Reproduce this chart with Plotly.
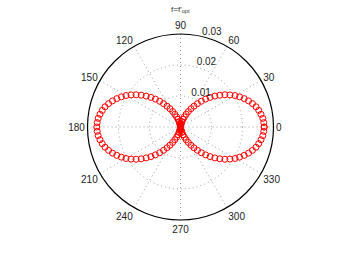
import plotly.graph_objects as go

# angles in degrees (3-degree step) and radial values
theta_deg = [i * 3 for i in range(121)]
quad_out = [0.0270, 0.0269, 0.0267, 0.0263, 0.0258, 0.0252, 0.0244, 0.0235, 0.0225, 0.0214,
            0.0203, 0.0190, 0.0177, 0.0163, 0.0149, 0.0135, 0.0121, 0.0107, 0.0093, 0.0080,
            0.0068, 0.0056, 0.0045, 0.0035, 0.0026, 0.0018, 0.0012, 0.0007, 0.0003, 0.0001]
quad_in = [0.0000, 0.0001, 0.0003, 0.0007, 0.0012, 0.0018, 0.0026, 0.0035, 0.0045, 0.0056,
           0.0068, 0.0080, 0.0093, 0.0107, 0.0121, 0.0135, 0.0149, 0.0163, 0.0177, 0.0190,
           0.0203, 0.0214, 0.0225, 0.0235, 0.0244, 0.0252, 0.0258, 0.0263, 0.0267, 0.0269]
r_vals = quad_out + quad_in + quad_out + quad_in + [0.0270]

angle_ticks = [0, 30, 60, 90, 120, 150, 180, 210, 240, 270, 300, 330]
radial_ticks = [0.01, 0.02, 0.03]
radial_labels = ["0.01", "0.02", "0.03"]
title_text = "f=f'<sub>opt</sub>"

W, H = 350, 264
cx, cy, R = 180.5, 127, 93

fig = go.Figure()
fig.add_trace(go.Scatterpolar(
    r=r_vals, theta=theta_deg, mode="markers",
    marker=dict(symbol="circle-open", size=6, color="#ff0000", line=dict(width=1)),
    showlegend=False, hoverinfo="skip",
))

fig.update_layout(
    width=W, height=H,
    margin=dict(l=0, r=0, t=0, b=0),
    paper_bgcolor="white",
    font=dict(family="Liberation Sans, Arial, sans-serif", size=10, color="#222222"),
    title=dict(text=title_text, x=0.515, xanchor="center", y=1 - 9 / H, yanchor="middle",
               font=dict(size=8, color="#333333")),
    polar=dict(
        domain=dict(x=[(cx - R) / W, (cx + R) / W], y=[(H - cy - R) / H, (H - cy + R) / H]),
        bgcolor="white",
        angularaxis=dict(
            rotation=0, direction="counterclockwise",
            tickmode="array", tickvals=angle_ticks, ticktext=[str(a) for a in angle_ticks],
            ticks="", showline=True, linecolor="black", linewidth=1.2,
            showgrid=True, gridcolor="#9a9a9a", gridwidth=1, griddash="1px,3px",
            tickfont=dict(size=10, color="#222222"),
        ),
        radialaxis=dict(
            range=[0, 0.03], tickmode="array", tickvals=radial_ticks,
            ticktext=[t + "<br> " for t in radial_labels],
            angle=80, tickangle=80, side="clockwise", showline=False, ticks="",
            showgrid=True, gridcolor="#9a9a9a", gridwidth=1, griddash="1px,3px",
            tickfont=dict(size=10, color="#222222"),
        ),
    ),
)

fig.write_html("out.html", config={"displayModeBar": False},
               post_script="document.body.style.margin='0';document.body.style.padding='0';")
